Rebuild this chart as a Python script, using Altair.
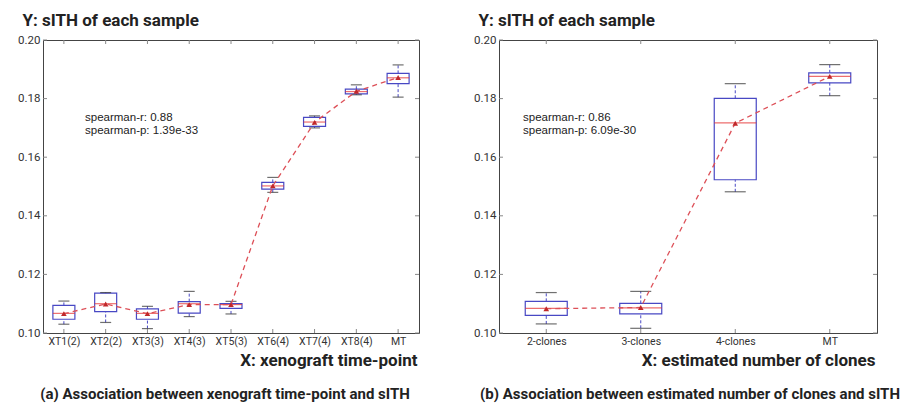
import altair as alt
import pandas as pd

# ---------------- data ----------------
y_ticks = [0.10, 0.12, 0.14, 0.16, 0.18, 0.20]

cats_a = ["XT1(2)", "XT2(2)", "XT3(3)", "XT4(3)", "XT5(3)", "XT6(4)", "XT7(4)", "XT8(4)", "MT"]
wlo_a = [0.1030, 0.1036, 0.1015, 0.1056, 0.1065, 0.1480, 0.1700, 0.1813, 0.1805]
q1_a = [0.1047, 0.1073, 0.1047, 0.1068, 0.1084, 0.1491, 0.1705, 0.1816, 0.1851]
med_a = [0.1067, 0.1100, 0.1067, 0.1100, 0.1097, 0.1502, 0.1720, 0.1824, 0.1871]
q3_a = [0.1094, 0.1136, 0.1082, 0.1107, 0.1100, 0.1514, 0.1736, 0.1832, 0.1886]
whi_a = [0.1109, 0.1138, 0.1091, 0.1142, 0.1108, 0.1531, 0.1741, 0.1847, 0.1915]
mean_a = [0.1066, 0.1099, 0.1066, 0.1097, 0.1097, 0.1502, 0.1719, 0.1825, 0.1872]
stats_a = ["spearman-r: 0.88", "spearman-p: 1.39e-33"]

cats_b = ["2-clones", "3-clones", "4-clones", "MT"]
wlo_b = [0.1031, 0.1016, 0.1482, 0.1810]
q1_b = [0.1060, 0.1065, 0.1523, 0.1854]
med_b = [0.1084, 0.1086, 0.1717, 0.1876]
q3_b = [0.1108, 0.1101, 0.1801, 0.1888]
whi_b = [0.1138, 0.1142, 0.1851, 0.1916]
mean_b = [0.1083, 0.1087, 0.1716, 0.1876]
stats_b = ["spearman-r: 0.86", "spearman-p: 6.09e-30"]

# ---------------- style ----------------
FONT = "Roboto"
BLUE = "#4848c4"
RED_MED = "#e63030"
RED_LINE = "#dd5058"
RED_TRI = "#c0282a"
CAP = "#333333"
TICK = "#888888"
H = 293


def panel(cats, wlo, q1, med, q3, whi, mean, stats, W, box_w, xtitle, caption, stats_x, cap_dx):
    df = pd.DataFrame(dict(cat=cats, wlo=wlo, q1=q1, med=med, q3=q3, whi=whi, mean=mean))
    xs = alt.Scale(type="point", domain=cats, padding=0.5)
    ys = alt.Scale(domain=[0.10, 0.20], nice=False, zero=False)
    x_axis = alt.Axis(
        title=xtitle, labelAngle=0, ticks=False, domain=False, labelPadding=3,
        labelFontSize=10.5, titleX=W - 2, titleY=32, titleAlign="right",
        titleBaseline="alphabetic", titleFontSize=17, titleFontWeight="bold",
        titleColor="#222",
    )
    y_axis = alt.Axis(
        values=y_ticks, format=".2f", title="Y: sITH of each sample", titleAngle=0,
        titleX=-21, titleY=-15, titleAlign="left", titleBaseline="alphabetic",
        titleFontSize=17, titleFontWeight="bold", titleColor="#222",
        ticks=False, domain=False, labelPadding=3, labelFontSize=11.5,
    )
    X = alt.X("cat:N", scale=xs, sort=cats, axis=x_axis)

    def Y(f):
        return alt.Y(f, type="quantitative", scale=ys, axis=y_axis)

    base = alt.Chart(df)
    box = base.mark_bar(size=box_w, fill="white", fillOpacity=0, stroke=BLUE, strokeWidth=1.2).encode(
        x=X, y=Y("q1"), y2="q3:Q")
    wl = base.mark_rule(color=BLUE, strokeDash=[3, 2], strokeWidth=1).encode(
        x=X, y=Y("wlo"), y2="q1:Q")
    wh = base.mark_rule(color=BLUE, strokeDash=[3, 2], strokeWidth=1).encode(
        x=X, y=Y("q3"), y2="whi:Q")
    cap_lo = base.mark_tick(size=box_w / 2, thickness=1.2, color=CAP, orient="horizontal").encode(
        x=X, y=Y("wlo"))
    cap_hi = base.mark_tick(size=box_w / 2, thickness=1.2, color=CAP, orient="horizontal").encode(
        x=X, y=Y("whi"))
    medl = base.mark_tick(size=box_w, thickness=1.2, color=RED_MED, orient="horizontal").encode(
        x=X, y=Y("med"))
    line = base.mark_line(color=RED_LINE, strokeDash=[5, 4], strokeWidth=1.3).encode(
        x=X, y=Y("mean"))
    tri = base.mark_point(shape="triangle-up", filled=True, color=RED_TRI, size=32, opacity=1).encode(
        x=X, y=Y("mean"))

    tdy = alt.Chart(pd.DataFrame({"v": y_ticks}))
    tdx = alt.Chart(pd.DataFrame({"cat": cats}))
    lt = tdy.mark_rule(color=TICK).encode(y=Y("v"), x=alt.value(0), x2=alt.value(4))
    rt = tdy.mark_rule(color=TICK).encode(y=Y("v"), x=alt.value(W - 4), x2=alt.value(W))
    tt = tdx.mark_rule(color=TICK).encode(x=X, y=alt.value(0), y2=alt.value(4))
    bt = tdx.mark_rule(color=TICK).encode(x=X, y=alt.value(H - 4), y2=alt.value(H))

    txt_style = dict(align="left", baseline="alphabetic", fontSize=11.5, color="#222",
                     font="Liberation Sans")
    t1 = alt.Chart(pd.DataFrame({"t": [stats[0]]})).mark_text(**txt_style).encode(
        x=alt.value(stats_x), y=alt.value(80.5), text="t:N")
    t2 = alt.Chart(pd.DataFrame({"t": [stats[1]]})).mark_text(**txt_style).encode(
        x=alt.value(stats_x), y=alt.value(94), text="t:N")

    return alt.layer(box, wl, wh, cap_lo, cap_hi, medl, line, tri, lt, rt, tt, bt, t1, t2).properties(
        width=W, height=H,
        title=alt.TitleParams(
            caption, orient="bottom", anchor="middle", fontSize=15, fontWeight="bold",
            offset=19, dx=cap_dx, color="#222", font=FONT,
        ),
    )


pa = panel(cats_a, wlo_a, q1_a, med_a, q3_a, whi_a, mean_a, stats_a, 376, 22,
           "X: xenograft time-point",
           "(a) Association between xenograft time-point and sITH", 42, -6)
pb = panel(cats_b, wlo_b, q1_b, med_b, q3_b, whi_b, mean_b, stats_b, 378, 42,
           "X: estimated number of clones",
           "(b) Association between estimated number of clones and sITH", 24, 2)

chart = alt.hconcat(pa, pb, spacing=80, bounds="flush").properties(
    padding={"left": 9, "right": 0, "top": 2, "bottom": 0}
).configure_view(stroke="#444444", strokeWidth=1).configure_axis(
    grid=False, labelColor="#333", labelFont=FONT, titleFont=FONT
).configure_title(font=FONT)

chart.save("out.html", embed_options={"renderer": "svg", "actions": False})
